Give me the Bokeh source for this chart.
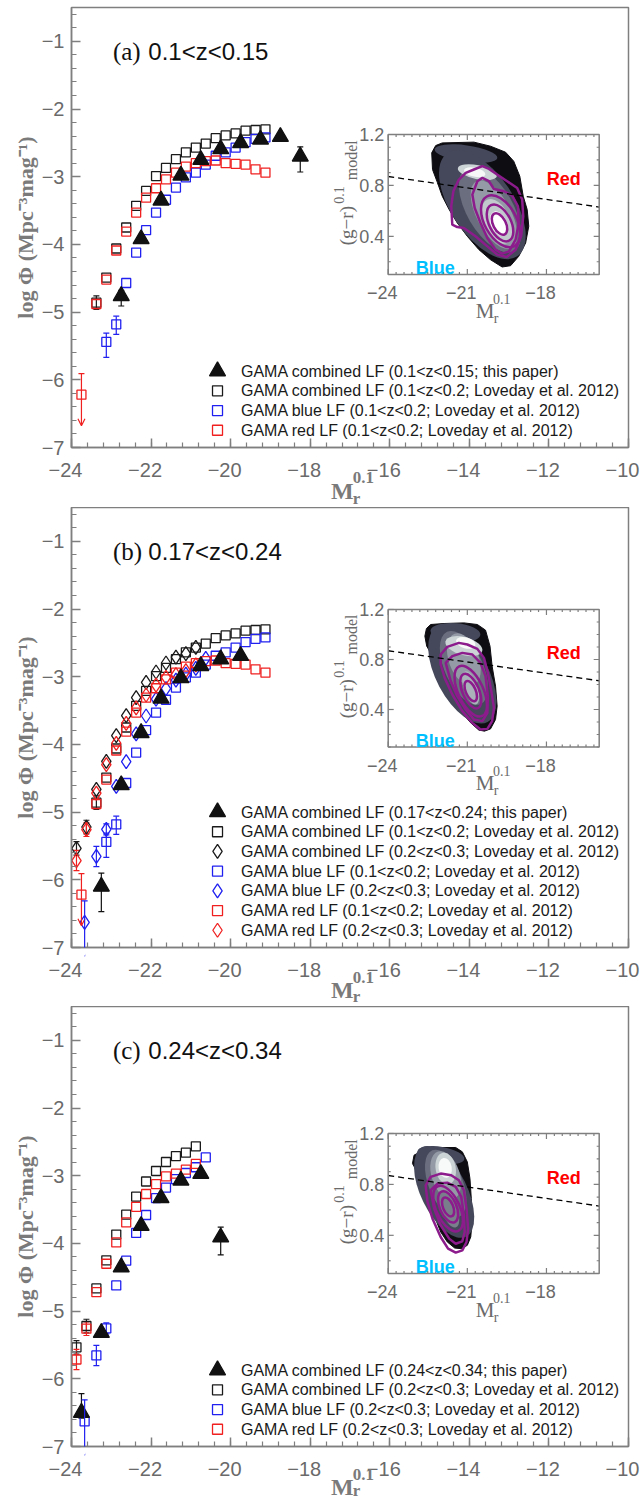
import numpy as np
from bokeh.plotting import figure
from bokeh.layouts import column
from bokeh.models import (Range1d, FixedTicker, CustomJSTickFormatter,
                          Whisker, TeeHead, Arrow, OpenHead, ColumnDataSource)
from bokeh.core.properties import value
from bokeh.embed import file_html
from bokeh.resources import INLINE

# ======================= DATA =======================
# --- this paper: combined LF (filled triangles) ---
a_tri_M = [-22.75, -22.25, -21.75, -21.25, -20.75, -20.25, -19.75, -19.25, -18.75, -18.25]
a_tri_phi = [-4.76, -3.92, -3.35, -2.98, -2.75, -2.59, -2.50, -2.45, -2.41, -2.70]
a_tri_elo = [0.15, 0, 0, 0, 0, 0, 0, 0, 0, 0.23]
a_tri_ehi = [0.08, 0, 0, 0, 0, 0, 0, 0, 0, 0.14]

b_tri_M = [-23.25, -22.75, -22.25, -21.75, -21.25, -20.75, -20.25, -19.75]
b_tri_phi = [-6.10, -4.60, -3.83, -3.32, -3.02, -2.84, -2.74, -2.69]
b_tri_elo = [0.37, 0, 0, 0, 0, 0, 0, 0]
b_tri_ehi = [0.20, 0, 0, 0, 0, 0, 0, 0]

c_tri_M = [-23.75, -23.25, -22.75, -22.25, -21.75, -21.25, -20.75, -20.25]
c_tri_phi = [-6.50, -5.32, -4.35, -3.74, -3.33, -3.07, -2.97, -3.91]
c_tri_elo = [0.08, 0, 0, 0, 0, 0, 0, 0.26]
c_tri_ehi = [0.28, 0, 0, 0, 0, 0, 0, 0.15]

# --- Loveday et al. 2012, 0.1<z<0.2 ---
L1_all_M = [-23.375, -23.125, -22.875, -22.625, -22.375, -22.125, -21.875, -21.625, -21.375,
            -21.125, -20.875, -20.625, -20.375, -20.125, -19.875, -19.625, -19.375, -19.125]
L1_all_phi = [-4.86, -4.49, -4.06, -3.75, -3.43, -3.21, -2.99, -2.87, -2.74,
              -2.64, -2.57, -2.51, -2.43, -2.39, -2.36, -2.32, -2.31, -2.30]
L1_all_err = [0.10, 0, 0, 0, 0, 0, 0, 0, 0, 0, 0, 0, 0, 0, 0, 0, 0, 0]

L1_blue_M = [-23.125, -22.875, -22.625, -22.375, -22.125, -21.875, -21.625, -21.375, -21.125,
             -20.875, -20.625, -20.375, -20.125, -19.875, -19.625, -19.375, -19.125]
L1_blue_phi = [-5.44, -5.18, -4.57, -4.12, -3.79, -3.53, -3.34, -3.16, -3.01,
               -2.94, -2.82, -2.69, -2.64, -2.57, -2.49, -2.44, -2.42]
L1_blue_elo = [0.23, 0.15, 0, 0, 0, 0, 0, 0, 0, 0, 0, 0, 0, 0, 0, 0, 0]
L1_blue_ehi = [0.13, 0.12, 0, 0, 0, 0, 0, 0, 0, 0, 0, 0, 0, 0, 0, 0, 0]

L1_red_M = [-23.375, -23.125, -22.875, -22.625, -22.375, -22.125, -21.875, -21.625, -21.375,
            -21.125, -20.875, -20.625, -20.375, -20.125, -19.875, -19.625, -19.375, -19.125]
L1_red_phi = [-4.88, -4.52, -4.09, -3.81, -3.53, -3.31, -3.17, -3.04, -2.94,
              -2.85, -2.80, -2.77, -2.76, -2.80, -2.81, -2.82, -2.89, -2.94]
# red upper limit
L1_red_ul_M = [-23.75]
L1_red_ul_phi = [-6.22]
L1_red_ul_top = [-5.91]
L1_red_ul_tip = [-6.68]

# --- Loveday et al. 2012, 0.2<z<0.3 ---
L2_all_M = [-23.875, -23.625, -23.375, -23.125, -22.875, -22.625, -22.375, -22.125, -21.875,
            -21.625, -21.375, -21.125, -20.875]
L2_all_phi = [-5.535, -5.22, -4.665, -4.25, -3.87, -3.575, -3.31, -3.085, -2.93,
              -2.797, -2.71, -2.66, -2.565]
L2_all_err = [0.10, 0.10, 0, 0, 0, 0, 0, 0, 0, 0, 0, 0, 0]

L2_blue_M = [-23.375, -23.125, -22.875, -22.625, -22.375, -22.125, -21.875, -21.625, -21.375,
             -21.125, -20.875, -20.625]
L2_blue_phi = [-5.655, -5.255, -4.62, -4.255, -3.845, -3.58, -3.33, -3.175, -3.05,
               -2.96, -2.875, -2.73]
L2_blue_err = [0.15, 0.08, 0, 0, 0, 0, 0, 0, 0, 0, 0, 0]
L2_blue_ul_M = [-23.67]
L2_blue_ul_phi = [-6.63]
L2_blue_ul_top = [-6.31]
L2_blue_ul_tip = [-7.13]

L2_red_M = [-23.875, -23.625, -23.375, -23.125, -22.875, -22.625, -22.375, -22.125, -21.875,
            -21.625, -21.375, -21.125, -20.875]
L2_red_phi = [-5.715, -5.26, -4.72, -4.30, -3.985, -3.69, -3.46, -3.27, -3.125,
              -3.01, -2.97, -2.91, -2.825]
L2_red_err = [0.15, 0.10, 0, 0, 0, 0, 0, 0, 0, 0, 0, 0, 0]

# --- legend texts ---
a_legend = ["GAMA combined LF (0.1<z<0.15; this paper)",
            "GAMA combined LF (0.1<z<0.2; Loveday et al. 2012)",
            "GAMA blue LF (0.1<z<0.2; Loveday et al. 2012)",
            "GAMA red LF (0.1<z<0.2; Loveday et al. 2012)"]
b_legend = ["GAMA combined LF (0.17<z<0.24; this paper)",
            "GAMA combined LF (0.1<z<0.2; Loveday et al. 2012)",
            "GAMA combined LF (0.2<z<0.3; Loveday et al. 2012)",
            "GAMA blue LF (0.1<z<0.2; Loveday et al. 2012)",
            "GAMA blue LF (0.2<z<0.3; Loveday et al. 2012)",
            "GAMA red LF (0.1<z<0.2; Loveday et al. 2012)",
            "GAMA red LF (0.2<z<0.3; Loveday et al. 2012)"]
c_legend = ["GAMA combined LF (0.24<z<0.34; this paper)",
            "GAMA combined LF (0.2<z<0.3; Loveday et al. 2012)",
            "GAMA blue LF (0.2<z<0.3; Loveday et al. 2012)",
            "GAMA red LF (0.2<z<0.3; Loveday et al. 2012)"]
panel_tags = ["(a)", "(b)", "(c)"]
panel_z = ["0.1<z<0.15", "0.17<z<0.24", "0.24<z<0.34"]

# --- main axes ticks ---
x_major = [-24, -22, -20, -18, -16, -14, -12, -10]
x_major_txt = ["\u221224", "\u221222", "\u221220", "\u221218", "\u221216", "\u221214",
               "\u221212", "\u221210"]
y_major = [-7, -6, -5, -4, -3, -2, -1]

# --- inset: colour-magnitude diagram (M_r, g-r) ---
cut_M = [-24.0, -16.0]
cut_col = [0.87, 0.63]
ins_xtick_vals = [-24, -21, -18]
ins_xtick_txt = ["\u221224", "\u221221", "\u221218"]
ins_ytick_vals = [0.4, 0.8, 1.2]
ins_ytick_txt = ["0.4", "0.8", "1.2"]

# panel (a) inset
a_blob_x = [-21.95, -20.75, -20.12, -19.55, -19.24, -19.01, -18.88, -18.73, -18.67, -18.79, -19.05, -19.36,
            -19.68, -20.12, -20.56, -21.00, -21.38, -21.69, -21.95, -22.13, -22.32, -22.35, -22.20]
a_blob_y = [1.134, 1.140, 1.108, 1.061, 0.990, 0.872, 0.715, 0.610, 0.479, 0.347, 0.243, 0.169,
            0.159, 0.216, 0.295, 0.400, 0.505, 0.610, 0.715, 0.820, 0.925, 1.056, 1.113]
a_shade_x = [-21.05, -20.43, -20.14, -19.99, -19.87, -19.80, -20.62, -20.72]
a_shade_y = [1.050, 0.649, 0.610, 0.570, 0.518, 0.500, 0.904, 0.904]
a_shade_w = [2.40, 4.73, 3.63, 2.87, 1.81, 0.98, 1.51, 0.83]
a_shade_h = [0.130, 0.489, 0.363, 0.268, 0.205, 0.126, 0.110, 0.071]
a_shade_ang = [-8, -56, -60, -62, -65, -65, -12, -12]
a_c1_x = [-21.57, -21.61, -21.53, -21.32, -21.06, -20.75, -20.43, -20.18, -19.87, -19.49, -19.11,
          -18.92, -18.88, -18.96, -19.17, -19.51, -19.87, -20.24, -20.69, -21.13, -21.38]
a_c1_y = [0.492, 0.636, 0.754, 0.846, 0.898, 0.925, 0.951, 0.930, 0.885, 0.833, 0.780,
          0.689, 0.557, 0.400, 0.295, 0.237, 0.256, 0.321, 0.400, 0.466, 0.473]
a_c2_x = [-20.81, -20.62, -20.43, -20.18, -19.99, -19.61, -19.30, -19.08, -19.05, -19.17, -19.42,
          -19.68, -19.93, -20.24, -20.50, -20.72]
a_c2_y = [0.728, 0.833, 0.859, 0.833, 0.772, 0.754, 0.720, 0.636, 0.505, 0.374, 0.282,
          0.264, 0.295, 0.387, 0.505, 0.623]
a_ring_x = [-19.74, -19.76, -19.78]
a_ring_y = [0.518, 0.505, 0.497]
a_ring_w = [2.15, 1.51, 0.88]
a_ring_h = [0.250, 0.171, 0.100]
a_ring_ang = [-61, -63, -63]

# panel (b) inset
b_blob_x = [-22.39, -21.88, -21.13, -20.62, -20.31, -20.14, -20.06, -19.93, -19.87, -19.93, -20.12,
            -20.35, -20.56, -20.87, -21.25, -21.57, -21.82, -22.07, -22.32, -22.54, -22.61, -22.55]
b_blob_y = [1.080, 1.088, 1.093, 1.080, 1.035, 0.907, 0.747, 0.587, 0.427, 0.320, 0.245,
            0.227, 0.235, 0.293, 0.387, 0.507, 0.627, 0.733, 0.827, 0.907, 0.987, 1.048]
b_shade_x = [-21.45, -21.19, -21.13, -21.13, -20.87, -21.13, -21.06]
b_shade_y = [1.015, 0.680, 0.733, 0.800, 0.573, 0.907, 0.933]
b_shade_w = [1.90, 4.08, 3.02, 2.08, 1.32, 1.44, 0.76]
b_shade_h = [0.150, 0.416, 0.304, 0.240, 0.112, 0.144, 0.088]
b_shade_ang = [-5, -62, -65, -70, -72, -15, -15]
b_c1_x = [-22.01, -21.76, -21.32, -21.00, -20.62, -20.37, -20.22, -20.09, -19.99, -20.06, -20.24,
          -20.50, -20.81, -21.19, -21.57, -21.86, -22.01]
b_c1_y = [0.840, 0.901, 0.933, 0.920, 0.885, 0.813, 0.693, 0.547, 0.413, 0.307, 0.245,
          0.240, 0.293, 0.387, 0.520, 0.653, 0.760]
b_c2_x = [-21.82, -21.57, -21.19, -20.81, -20.50, -20.31, -20.22, -20.24, -20.43, -20.75, -21.06,
          -21.38, -21.63]
b_c2_y = [0.773, 0.827, 0.853, 0.840, 0.773, 0.667, 0.507, 0.373, 0.307, 0.320, 0.400,
          0.507, 0.627]
b_ring_x = [-20.87, -20.87, -20.87]
b_ring_y = [0.547, 0.547, 0.547]
b_ring_w = [2.08, 1.40, 0.82]
b_ring_h = [0.200, 0.133, 0.080]
b_ring_ang = [-65, -67, -67]

# panel (c) inset
c_blob_x = [-23.02, -23.08, -22.87, -22.64, -22.45, -22.26, -22.01, -21.76, -21.48, -21.23, -21.00,
            -20.87, -20.81, -20.85, -20.90, -21.00, -21.19, -21.44, -22.01, -22.51, -22.83]
c_blob_y = [1.030, 0.964, 0.885, 0.807, 0.689, 0.557, 0.426, 0.348, 0.300, 0.295, 0.321,
            0.387, 0.531, 0.689, 0.846, 0.977, 1.056, 1.090, 1.090, 1.069, 1.050]
c_shade_x = [-22.00, -21.88, -21.82, -21.82, -21.69, -21.82, -21.84]
c_shade_y = [1.030, 0.741, 0.807, 0.872, 0.610, 0.925, 0.930]
c_shade_w = [1.80, 3.78, 2.72, 1.89, 1.51, 1.21, 0.76]
c_shade_h = [0.130, 0.363, 0.268, 0.221, 0.126, 0.158, 0.103]
c_shade_ang = [-10, -64, -68, -72, -70, -80, -80]
c_c1_x = [-22.58, -22.39, -22.01, -21.61, -21.32, -21.13, -21.03, -20.97, -21.03, -21.19, -21.44,
          -21.73, -22.01, -22.32, -22.51]
c_c1_y = [0.793, 0.859, 0.885, 0.872, 0.833, 0.754, 0.610, 0.452, 0.348, 0.282, 0.264,
          0.295, 0.387, 0.531, 0.662]
c_c2_x = [-22.39, -22.13, -21.76, -21.44, -21.23, -21.13, -21.10, -21.19, -21.44, -21.69, -22.01, -22.26]
c_c2_y = [0.754, 0.807, 0.814, 0.780, 0.702, 0.557, 0.426, 0.353, 0.334, 0.374, 0.479, 0.610]
c_ring_x = [-21.73, -21.73, -21.73]
c_ring_y = [0.610, 0.623, 0.623]
c_ring_w = [1.86, 1.26, 0.76]
c_ring_h = [0.184, 0.131, 0.079]
c_ring_ang = [-65, -67, -67]

# ======================= STYLE / LAYOUT =======================
SANS = "Liberation Sans"
SERIF = "Liberation Serif"
AX_GRAY = "#7f7f7f"
LBL_GRAY = "#6a6a6a"
TITLE_GRAY = "#7a7a7a"
BLACK = "#1a1a1a"
BLUE = "#2020f0"
RED = "#f02020"
TRI = "#111111"
PURPLE = "#8c1b8c"
BLOB = "#0d0d12"
A_SHADE_FILL = ["#45485a", "#45485a", "#6a6e7e", "#959ba6", "#c2cacd", "#ffffff", "#ccd4d6", "#f6f8f8"]
B_SHADE_FILL = ["#45485a", "#45485a", "#6a6e7e", "#959ba6", "#aab2ba", "#ccd4d6", "#f8f9f9"]
C_SHADE_FILL = ["#45485a", "#45485a", "#6a6e7e", "#959ba6", "#7a7f8c", "#ccd4d6", "#f8f9f9"]

PAGE_W = 641
LEFT, RIGHT = 71, 13
FRAME_W, FRAME_H = 557, 440
BOTTOM = 11
PPX = FRAME_W / 14.0
SQ, DI, TR = 9, 14, 16
LEG_MX, LEG_TX = -20.33, -19.74
LEG_BOTTOM, LEG_STEP = -6.745, 0.291

blank_fmt = CustomJSTickFormatter(code="return '';")
minus_fmt = CustomJSTickFormatter(code="""
return (tick < 0 ? "\\u2212" : "") + Math.abs(tick).toString();
""")


def new_figure(**kw):
    try:
        return figure(frame_align=False, **kw)
    except Exception:
        return figure(**kw)


def make_fig(top_border):
    p = new_figure(frame_width=FRAME_W, frame_height=FRAME_H,
                   x_range=Range1d(-24, -10), y_range=Range1d(-7, -0.5),
                   output_backend="svg", toolbar_location=None,
                   min_border_left=LEFT, min_border_right=RIGHT, min_border_top=top_border,
                   min_border_bottom=BOTTOM)
    p.grid.visible = False
    p.outline_line_color = AX_GRAY
    p.outline_line_width = 1.5
    p.xaxis.ticker = FixedTicker(ticks=x_major,
                                 minor_ticks=[round(-24 + 0.4 * k, 2) for k in range(36)])
    p.yaxis.ticker = FixedTicker(ticks=y_major,
                                 minor_ticks=[round(-7 + 0.2 * k, 2) for k in range(33)])
    for ax in (p.xaxis[0], p.yaxis[0]):
        ax.axis_line_color = AX_GRAY
        ax.axis_line_width = 1.5
        ax.major_tick_line_color = AX_GRAY
        ax.major_tick_line_width = 1.5
        ax.major_tick_in = 9
        ax.major_tick_out = 0
        ax.minor_tick_line_color = AX_GRAY
        ax.minor_tick_line_width = 1.2
        ax.minor_tick_in = 5
        ax.minor_tick_out = 0
        ax.major_label_text_font = SANS
        ax.major_label_text_color = LBL_GRAY
    # x tick labels and the x title are drawn in the strip below the panel
    p.xaxis.formatter = blank_fmt
    p.xaxis.major_label_text_font_size = "0px"
    p.xaxis.major_label_standoff = 0
    p.yaxis.formatter = minus_fmt
    p.yaxis.major_label_text_font_size = "20px"
    p.yaxis.major_label_standoff = 7
    p.yaxis.axis_label = "log \u03a6 (Mpc\u207b\u00b3mag\u207b\u00b9)"
    p.yaxis.axis_label_text_font = SERIF
    p.yaxis.axis_label_text_font_style = "bold"
    p.yaxis.axis_label_text_font_size = "22px"
    p.yaxis.axis_label_text_color = TITLE_GRAY
    p.yaxis.axis_label_standoff = 1
    return p


def make_strip(h, sup_y, m_y, sub_y):
    """x tick labels and the M_r^0.1 title under a panel (same x scale as the panel)."""
    s = new_figure(width=PAGE_W, height=h, frame_width=PAGE_W, frame_height=h,
                   x_range=Range1d(-24 - LEFT / PPX, -24 + (PAGE_W - LEFT) / PPX),
                   y_range=Range1d(-h, 0), output_backend="svg", toolbar_location=None,
                   x_axis_location=None, y_axis_location=None, min_border=0)
    s.grid.visible = False
    s.outline_line_color = None
    s.text(x=[v - 6 / PPX for v in x_major], y=[-11.5] * len(x_major), text=x_major_txt,
           text_font=value(SANS), text_font_size="20px", text_color=LBL_GRAY,
           text_align="center", text_baseline="middle")
    s.text(x=[-17.48], y=[m_y], text=["M"], text_font=value(SERIF), text_font_style="bold",
           text_font_size="24px", text_color=TITLE_GRAY, text_align="left",
           text_baseline="alphabetic")
    s.text(x=[-16.93], y=[sup_y], text=["0.1"], text_font=value(SERIF), text_font_style="bold",
           text_font_size="17px", text_color=TITLE_GRAY, text_align="left",
           text_baseline="alphabetic")
    s.text(x=[-16.93], y=[sub_y], text=["r"], text_font=value(SERIF), text_font_style="bold",
           text_font_size="17px", text_color=TITLE_GRAY, text_align="left",
           text_baseline="alphabetic")
    return s


def add_title(p, tag, ztxt):
    p.text(x=[-22.96], y=[-1.147], text=[tag], text_font=value(SERIF), text_font_size="25px",
           text_color="#111111", text_align="left", text_baseline="alphabetic")
    p.text(x=[-22.07], y=[-1.147], text=[ztxt], text_font=value(SANS), text_font_size="24px",
           text_color="#111111", text_align="left", text_baseline="alphabetic")


def add_err(p, x, y, lo, hi, color):
    rows = [(xi, yi - l, yi + h) for xi, yi, l, h in zip(x, y, lo, hi) if l > 0 or h > 0]
    if not rows:
        return
    src = ColumnDataSource(dict(x=[r[0] for r in rows], lower=[r[1] for r in rows],
                                upper=[r[2] for r in rows]))
    p.add_layout(Whisker(source=src, base="x", lower="lower", upper="upper", dimension="height",
                         line_color=color, line_width=1.2,
                         upper_head=TeeHead(size=6, line_color=color, line_width=1.2),
                         lower_head=TeeHead(size=6, line_color=color, line_width=1.2)))


def add_ul(p, x, top, tip, color):
    src = ColumnDataSource(dict(x0=x, y0=top, x1=x, y1=tip))
    p.add_layout(Arrow(source=src, x_start="x0", y_start="y0", x_end="x1", y_end="y1",
                       line_color=color, line_width=1.2,
                       start=TeeHead(size=6, line_color=color, line_width=1.2),
                       end=OpenHead(size=7, line_color=color, line_width=1.2)))


def add_pts(p, x, y, marker, color, size, filled=False):
    p.scatter(x=x, y=y, marker=marker, size=size, line_color=color, line_width=1.3,
              fill_color=color if filled else None)


def add_legend(p, labels, styles):
    n = len(labels)
    ys = [LEG_BOTTOM + (n - 1 - i) * LEG_STEP for i in range(n)]
    for (marker, color, size, filled), yy in zip(styles, ys):
        p.scatter(x=[LEG_MX], y=[yy], marker=marker, size=size, line_color=color, line_width=1.3,
                  fill_color=color if filled else None)
    p.text(x=[LEG_TX] * n, y=ys, text=labels, text_font=value(SANS), text_font_size="16px",
           text_color="#1a1a1a", text_align="left", text_baseline="middle")


def add_inset(p, top_px, h_px, blob_x, blob_y, sx, sy, sw, sh, sang, sfill,
              c1x, c1y, c2x, c2y, rx, ry, rw, rh, rang):
    left_px, w_px = 316.7, 211.0
    ppx = w_px / 8.0
    ppy = h_px / 1.1
    xs = -24 - left_px / ppx
    bottom_px = FRAME_H - top_px - h_px
    ys = 0.1 - bottom_px / ppy
    p.extra_x_ranges = {"ix": Range1d(xs, xs + FRAME_W / ppx)}
    p.extra_y_ranges = {"iy": Range1d(ys, ys + FRAME_H / ppy)}
    kw = dict(x_range_name="ix", y_range_name="iy")
    p.quad(left=[-24], right=[-16], bottom=[0.1], top=[1.2], fill_color="white",
           line_color=None, **kw)
    p.patch(blob_x, blob_y, fill_color=BLOB, line_color=BLOB, line_width=1, **kw)
    p.ellipse(source=ColumnDataSource(dict(x=sx, y=sy, w=sw, h=sh, a=sang, c=sfill)),
              x="x", y="y", width="w", height="h", angle="a", angle_units="deg",
              fill_color="c", line_color=None, **kw)
    p.patches(xs=[c1x, c2x], ys=[c1y, c2y], fill_color=None, line_color=PURPLE,
              line_width=2.5, **kw)
    p.ellipse(x=rx, y=ry, width=rw, height=rh, angle=rang, angle_units="deg",
              fill_color=None, line_color=PURPLE, line_width=2.5, **kw)
    p.line(cut_M, cut_col, line_color="black", line_width=1.3, line_dash="6 4", **kw)
    # ticks
    xmin = [round(-24 + 0.3 * k, 2) for k in range(27)]
    ymin = [round(0.1 + 0.1 * k, 2) for k in range(12)]
    tx0, ty0, tx1, ty1 = [], [], [], []
    for t in xmin:
        ln = (5.5 if t in ins_xtick_vals else 2.5) / ppy
        tx0 += [t, t]; tx1 += [t, t]; ty0 += [0.1, 1.2]; ty1 += [0.1 + ln, 1.2 - ln]
    for t in ymin:
        ln = (5.5 if t in ins_ytick_vals else 2.5) / ppx
        ty0 += [t, t]; ty1 += [t, t]; tx0 += [-24, -16]; tx1 += [-24 + ln, -16 - ln]
    p.segment(x0=tx0, y0=ty0, x1=tx1, y1=ty1, line_color=AX_GRAY, line_width=1.2, **kw)
    p.quad(left=[-24], right=[-16], bottom=[0.1], top=[1.2], fill_color=None,
           line_color=AX_GRAY, line_width=1.5, **kw)
    # tick labels
    p.text(x=[v - 6 / ppx for v in ins_xtick_vals], y=[0.1 - 18 / ppy] * 3, text=ins_xtick_txt,
           text_font=value(SANS), text_font_size="18px", text_color=LBL_GRAY,
           text_align="center", text_baseline="middle", **kw)
    p.text(x=[-24 - 4 / ppx] * 3, y=ins_ytick_vals, text=ins_ytick_txt,
           text_font=value(SANS), text_font_size="18px", text_color=LBL_GRAY,
           text_align="right", text_baseline="middle", **kw)
    # axis labels of the inset
    p.text(x=[-20.68], y=[-0.19], text=["M"], text_font=value(SERIF), text_font_size="21px",
           text_color=LBL_GRAY, text_align="left", text_baseline="alphabetic", **kw)
    p.text(x=[-20.03], y=[-0.095], text=["0.1"], text_font=value(SERIF), text_font_size="14px",
           text_color=LBL_GRAY, text_align="left", text_baseline="alphabetic", **kw)
    p.text(x=[-20.0], y=[-0.245], text=["r"], text_font=value(SERIF), text_font_size="14px",
           text_color=LBL_GRAY, text_align="left", text_baseline="alphabetic", **kw)
    p.text(x=[-25.60], y=[0.33], text=["(g\u2212r)"], angle=90, angle_units="deg",
           text_font=value(SERIF), text_font_size="19px", text_color=LBL_GRAY,
           text_align="left", text_baseline="alphabetic", **kw)
    p.text(x=[-25.88], y=[0.655], text=["0.1"], angle=90, angle_units="deg",
           text_font=value(SERIF), text_font_size="14px", text_color=LBL_GRAY,
           text_align="left", text_baseline="alphabetic", **kw)
    p.text(x=[-25.40], y=[0.84], text=["model"], angle=90, angle_units="deg",
           text_font=value(SERIF), text_font_size="16px", text_color=LBL_GRAY,
           text_align="left", text_baseline="alphabetic", **kw)
    p.text(x=[-17.34], y=[0.851], text=["Red"], text_font=value(SANS), text_font_size="18px",
           text_font_style="bold", text_color="#ff0000", text_align="center",
           text_baseline="alphabetic", **kw)
    p.text(x=[-22.22], y=[0.151], text=["Blue"], text_font=value(SANS), text_font_size="18px",
           text_font_style="bold", text_color="#00bfff", text_align="center",
           text_baseline="alphabetic", **kw)


TRI_STYLE = ("triangle", TRI, TR, True)

# ---------------- panel (a) ----------------
pa = make_fig(7)
add_inset(pa, 127, 140, a_blob_x, a_blob_y, a_shade_x, a_shade_y, a_shade_w, a_shade_h,
          a_shade_ang, A_SHADE_FILL, a_c1_x, a_c1_y, a_c2_x, a_c2_y,
          a_ring_x, a_ring_y, a_ring_w, a_ring_h, a_ring_ang)
add_err(pa, L1_all_M, L1_all_phi, L1_all_err, L1_all_err, BLACK)
add_err(pa, L1_blue_M, L1_blue_phi, L1_blue_elo, L1_blue_ehi, BLUE)
add_ul(pa, L1_red_ul_M, L1_red_ul_top, L1_red_ul_tip, RED)
add_pts(pa, L1_all_M, L1_all_phi, "square", BLACK, SQ)
add_pts(pa, L1_blue_M, L1_blue_phi, "square", BLUE, SQ)
add_pts(pa, L1_red_M, L1_red_phi, "square", RED, SQ)
add_pts(pa, L1_red_ul_M, L1_red_ul_phi, "square", RED, SQ)
add_err(pa, a_tri_M, a_tri_phi, a_tri_elo, a_tri_ehi, TRI)
add_pts(pa, a_tri_M, a_tri_phi, "triangle", TRI, TR, filled=True)
add_title(pa, panel_tags[0], panel_z[0])
add_legend(pa, a_legend, [TRI_STYLE, ("square", BLACK, 10, False),
                          ("square", BLUE, 10, False), ("square", RED, 10, False)])
sa = make_strip(49, -19, -32, -40)

# ---------------- panel (b) ----------------
pb = make_fig(0)
add_inset(pb, 102, 137.5, b_blob_x, b_blob_y, b_shade_x, b_shade_y, b_shade_w, b_shade_h,
          b_shade_ang, B_SHADE_FILL, b_c1_x, b_c1_y, b_c2_x, b_c2_y,
          b_ring_x, b_ring_y, b_ring_w, b_ring_h, b_ring_ang)
add_err(pb, L1_all_M, L1_all_phi, L1_all_err, L1_all_err, BLACK)
add_err(pb, L2_all_M, L2_all_phi, L2_all_err, L2_all_err, BLACK)
add_err(pb, L1_blue_M, L1_blue_phi, L1_blue_elo, L1_blue_ehi, BLUE)
add_err(pb, L2_blue_M, L2_blue_phi, L2_blue_err, L2_blue_err, BLUE)
add_err(pb, L2_red_M, L2_red_phi, L2_red_err, L2_red_err, RED)
add_ul(pb, L1_red_ul_M, L1_red_ul_top, L1_red_ul_tip, RED)
add_ul(pb, L2_blue_ul_M, L2_blue_ul_top, L2_blue_ul_tip, BLUE)
add_pts(pb, L1_all_M, L1_all_phi, "square", BLACK, SQ)
add_pts(pb, L2_all_M, L2_all_phi, "diamond", BLACK, DI)
add_pts(pb, L1_blue_M, L1_blue_phi, "square", BLUE, SQ)
add_pts(pb, L2_blue_M, L2_blue_phi, "diamond", BLUE, DI)
add_pts(pb, L2_blue_ul_M, L2_blue_ul_phi, "diamond", BLUE, DI)
add_pts(pb, L1_red_M, L1_red_phi, "square", RED, SQ)
add_pts(pb, L1_red_ul_M, L1_red_ul_phi, "square", RED, SQ)
add_pts(pb, L2_red_M, L2_red_phi, "diamond", RED, DI)
add_err(pb, b_tri_M, b_tri_phi, b_tri_elo, b_tri_ehi, TRI)
add_pts(pb, b_tri_M, b_tri_phi, "triangle", TRI, TR, filled=True)
add_title(pb, panel_tags[1], panel_z[1])
add_legend(pb, b_legend, [TRI_STYLE, ("square", BLACK, 10, False), ("diamond", BLACK, 14, False),
                          ("square", BLUE, 10, False), ("diamond", BLUE, 14, False),
                          ("square", RED, 10, False), ("diamond", RED, 14, False)])
sb = make_strip(48, -19, -31, -38)

# ---------------- panel (c) ----------------
pc = make_fig(0)
add_inset(pc, 127, 140, c_blob_x, c_blob_y, c_shade_x, c_shade_y, c_shade_w, c_shade_h,
          c_shade_ang, C_SHADE_FILL, c_c1_x, c_c1_y, c_c2_x, c_c2_y,
          c_ring_x, c_ring_y, c_ring_w, c_ring_h, c_ring_ang)
add_err(pc, L2_all_M, L2_all_phi, L2_all_err, L2_all_err, BLACK)
add_err(pc, L2_blue_M, L2_blue_phi, L2_blue_err, L2_blue_err, BLUE)
add_err(pc, L2_red_M, L2_red_phi, L2_red_err, L2_red_err, RED)
add_ul(pc, L2_blue_ul_M, L2_blue_ul_top, L2_blue_ul_tip, BLUE)
add_pts(pc, L2_all_M, L2_all_phi, "square", BLACK, SQ)
add_pts(pc, L2_blue_M, L2_blue_phi, "square", BLUE, SQ)
add_pts(pc, L2_blue_ul_M, L2_blue_ul_phi, "square", BLUE, SQ)
add_pts(pc, L2_red_M, L2_red_phi, "square", RED, SQ)
add_err(pc, c_tri_M, c_tri_phi, c_tri_elo, c_tri_ehi, TRI)
add_pts(pc, c_tri_M, c_tri_phi, "triangle", TRI, TR, filled=True)
add_title(pc, panel_tags[2], panel_z[2])
add_legend(pc, c_legend, [TRI_STYLE, ("square", BLACK, 10, False),
                          ("square", BLUE, 10, False), ("square", RED, 10, False)])
sc = make_strip(42, -17, -29, -33)

layout = column(pa, sa, pb, sb, pc, sc)
open("out.html", "w").write(file_html(layout, INLINE, "GAMA luminosity functions"))
